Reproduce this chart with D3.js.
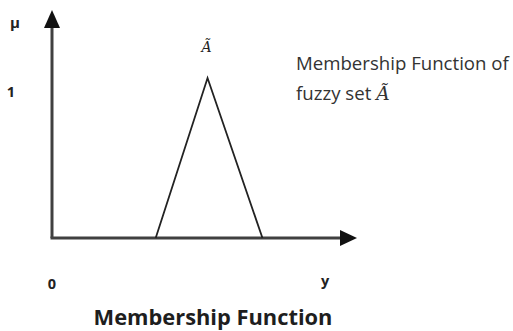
<!DOCTYPE html>
<html>
<head>
<meta charset="utf-8">
<script src="https://cdn.jsdelivr.net/npm/d3@7"></script>
<style>
  body { margin: 0; background: #fff; }
  svg { display: block; }
</style>
</head>
<body>
<div id="chart"></div>
<script>
// triangular membership function of fuzzy set A (a, b, c)
var supportX = [3.4, 5.1, 6.9];
var membership = [0, 1, 0];
var xLabels = ["0", "y"];
var yLabels = ["1", "\u03bc"];
var title = "Membership Function";
var note = ["Membership Function of", "fuzzy set "];

var width = 513, height = 331;

var svg = d3.select("#chart")
  .append("svg")
  .attr("width", width)
  .attr("height", height);

// scales: origin at (52, 238)
var x = d3.scaleLinear().domain([0, 10]).range([52, 357]);
var y = d3.scaleLinear().domain([0, 1]).range([238, 78]);
var yTop = 1.425;

var axisColor = "#404040";

// axes drawn as arrows
svg.append("path")
  .attr("d", d3.line()([[x(0), y(0)], [x(0), y(yTop) + 16]]))
  .attr("stroke", axisColor)
  .attr("stroke-width", 3)
  .attr("fill", "none");
svg.append("path")
  .attr("d", d3.line()([[x(0) - 1.5, y(0)], [x(10) - 15, y(0)]]))
  .attr("stroke", axisColor)
  .attr("stroke-width", 3)
  .attr("fill", "none");

// arrow heads
svg.append("path")
  .attr("d", d3.line()([[x(0), y(yTop)], [x(0) - 8, y(yTop) + 18], [x(0) + 8, y(yTop) + 18]]) + "Z")
  .attr("fill", "#111");
svg.append("path")
  .attr("d", d3.line()([[x(10), y(0)], [x(10) - 17, y(0) - 8], [x(10) - 17, y(0) + 8]]) + "Z")
  .attr("fill", "#111");

// the triangle
var pts = supportX.map(function(d, i) { return [x(d), y(membership[i])]; });
svg.append("path")
  .attr("d", d3.line()(pts))
  .attr("stroke", "#222")
  .attr("stroke-width", 1.8)
  .attr("fill", "none");

var sans = "'Open Sans', 'Noto Sans', sans-serif";

// fit a text element to a target width
function fit(t, w) {
  var len = t.node().getComputedTextLength();
  var fs = parseFloat(t.attr("font-size"));
  t.attr("font-size", (fs * w / len).toFixed(2));
}

// axis labels
svg.append("text").text(xLabels[0])
  .attr("x", x(0)).attr("y", 289)
  .attr("text-anchor", "middle")
  .attr("font-family", sans).attr("font-weight", "bold")
  .attr("font-size", 14.5).attr("fill", "#222");
svg.append("text").text(xLabels[1])
  .attr("x", 325).attr("y", 286)
  .attr("text-anchor", "middle")
  .attr("font-family", sans).attr("font-weight", "bold")
  .attr("font-size", 14.5).attr("fill", "#222");
svg.append("text").text(yLabels[0])
  .attr("x", 11).attr("y", y(1) + 19)
  .attr("text-anchor", "middle")
  .attr("font-family", sans).attr("font-weight", "bold")
  .attr("font-size", 14.5).attr("fill", "#222");
svg.append("text").text(yLabels[1])
  .attr("x", 15).attr("y", 28)
  .attr("text-anchor", "middle")
  .attr("font-family", sans).attr("font-weight", "bold")
  .attr("font-size", 15).attr("fill", "#222");

// A-tilde over the peak
svg.append("text").text("A\u0303")
  .attr("x", x(supportX[1]) - 1).attr("y", 52)
  .attr("text-anchor", "middle")
  .attr("font-family", "'DejaVu Serif', serif").attr("font-style", "italic")
  .attr("font-size", 14).attr("fill", "#222");

// note on the right
var n1 = svg.append("text").text(note[0])
  .attr("x", 296).attr("y", 70)
  .attr("font-family", sans)
  .attr("font-size", 13).attr("fill", "#333");
fit(n1, 213);
var n2 = svg.append("text")
  .attr("x", 296).attr("y", 100)
  .attr("font-family", sans)
  .attr("font-size", n1.attr("font-size")).attr("fill", "#333");
n2.append("tspan").text(note[1]);
n2.append("tspan").text("A\u0303")
  .attr("font-family", "'DejaVu Serif', serif").attr("font-style", "italic");

// title
var tt = svg.append("text").text(title)
  .attr("x", 213).attr("y", 325)
  .attr("text-anchor", "middle")
  .attr("font-family", sans).attr("font-weight", "bold")
  .attr("font-size", 18).attr("fill", "#1e1e1e");
fit(tt, 239);
</script>
</body>
</html>
